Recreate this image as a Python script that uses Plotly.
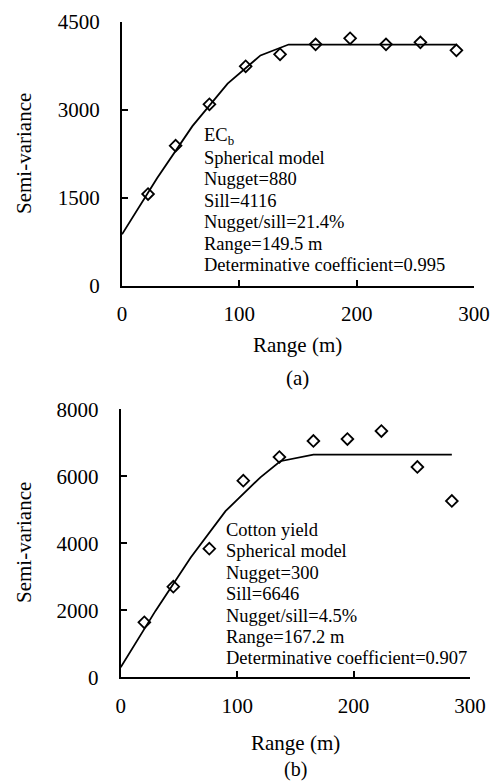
import plotly.graph_objects as go

W, H = 490, 782
FONT = "Liberation Serif, Times New Roman, serif"

# ---- data: (a) EC_b ----
a_lag = [22.2, 45.7, 74.5, 105.4, 134.7, 165.0, 194.4, 225.0, 254.3, 285.0]
a_semivar = [1568, 2392, 3097, 3745, 3950, 4119, 4222, 4119, 4153, 4017]
a_model_x = [0, 30, 60, 90, 118, 142, 285]
a_model_y = [880, 1840, 2725, 3450, 3930, 4116, 4116]
a_text = ["EC<sub>b</sub>", "Spherical model", "Nugget=880", "Sill=4116",
          "Nugget/sill=21.4%", "Range=149.5 m", "Determinative coefficient=0.995"]
a_yticks = [0, 1500, 3000, 4500]

# ---- data: (b) Cotton yield ----
b_lag = [20.3, 45.2, 76.1, 105.3, 136.3, 165.5, 194.7, 223.9, 254.8, 284.4]
b_semivar = [1642, 2705, 3839, 5869, 6576, 7054, 7113, 7352, 6278, 5263]
b_model_x = [0, 30, 60, 90, 120, 137, 165.5, 284.4]
b_model_y = [300, 1990, 3570, 4960, 5970, 6450, 6646, 6646]
b_text = ["Cotton yield", "Spherical model", "Nugget=300", "Sill=6646",
          "Nugget/sill=4.5%", "Range=167.2 m", "Determinative coefficient=0.907"]
b_yticks = [0, 2000, 4000, 6000, 8000]

x_ticks = [0, 100, 200, 300]

def px_x(p):
    return p / W

def px_y(p):
    return 1 - p / H

fig = go.Figure()

marker = dict(symbol="diamond-open", size=9, color="black", line=dict(width=1.8, color="black"))
fig.add_trace(go.Scatter(x=a_model_x, y=a_model_y, mode="lines", line=dict(color="black", width=1.8),
                         xaxis="x", yaxis="y", showlegend=False))
fig.add_trace(go.Scatter(x=a_lag, y=a_semivar, mode="markers", marker=marker,
                         xaxis="x", yaxis="y", showlegend=False, cliponaxis=False))
fig.add_trace(go.Scatter(x=b_model_x, y=b_model_y, mode="lines", line=dict(color="black", width=1.8),
                         xaxis="x2", yaxis="y2", showlegend=False))
fig.add_trace(go.Scatter(x=b_lag, y=b_semivar, mode="markers", marker=marker,
                         xaxis="x2", yaxis="y2", showlegend=False, cliponaxis=False))

axis_common = dict(showgrid=False, zeroline=False, showline=True, linecolor="black", linewidth=2,
                   ticks="inside", ticklen=6, tickwidth=1.6, tickcolor="black", automargin=False,
                   tickfont=dict(family=FONT, size=21, color="black"))

fig.update_layout(
    template="none",
    width=W, height=H, margin=dict(l=0, r=0, t=0, b=0, pad=0),
    paper_bgcolor="white", plot_bgcolor="white",
    xaxis=dict(domain=[px_x(122), px_x(474)], range=[0, 300], tickvals=x_ticks,
               anchor="y", ticklabelstandoff=8, **axis_common),
    yaxis=dict(domain=[px_y(286), px_y(22)], range=[0, 4500], tickvals=a_yticks,
               anchor="x", ticklabelstandoff=16, **axis_common),
    xaxis2=dict(domain=[px_x(120.7), px_x(470)], range=[0, 300], tickvals=x_ticks,
                anchor="y2", ticklabelstandoff=8, **axis_common),
    yaxis2=dict(domain=[px_y(677.3), px_y(409.3)], range=[0, 8000], tickvals=b_yticks,
                anchor="x2", ticklabelstandoff=16, **axis_common),
)

anns = []
def text(x, y, s, size, anchor="center", angle=0):
    anns.append(dict(x=px_x(x), y=px_y(y), xref="paper", yref="paper", text=s, showarrow=False,
                     xanchor=anchor, yanchor="middle", textangle=angle,
                     font=dict(family=FONT, size=size, color="black")))

# panel (a)
text(24, 154, "Semi-variance", 21, angle=-90)
text(297, 345, "Range (m)", 21)
text(297, 378, "(a)", 21)
for i, s in enumerate(a_text):
    text(202, 136.7 + 21.4 * i, s, 18.5, anchor="left")

# panel (b)
text(24, 543, "Semi-variance", 21, angle=-90)
text(295, 743, "Range (m)", 21)
text(295, 769.5, "(b)", 20)
for i, s in enumerate(b_text):
    text(224, 530 + 21.4 * i, s, 18.5, anchor="left")

fig.update_layout(annotations=anns)
fig.write_html("out.html", config={"displayModeBar": False},
               post_script="document.body.style.margin='0';document.body.style.overflow='hidden';")
